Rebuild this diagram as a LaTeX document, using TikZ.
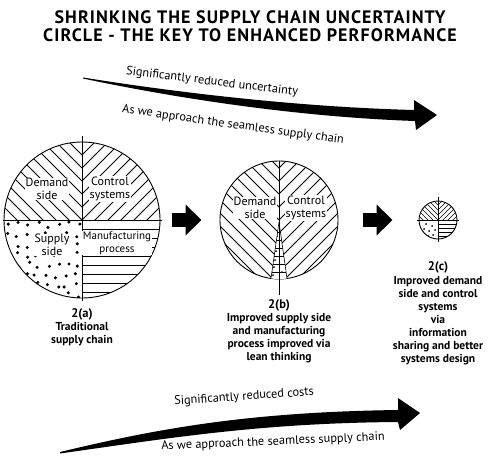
\documentclass[tikz,border=0pt]{standalone}
\usepackage{fontspec}
\setmainfont{PT Sans}
\usetikzlibrary{arrows.meta,positioning,calc}
\tikzset{
  ring/.style={circle,draw,line width=0.9pt,inner sep=0pt,minimum size=#1},
  hatch/.style={line width=0.8pt},
  axis/.style={line width=0.9pt},
  intext/.style={fill=white,inner sep=0.8pt,align=center,
    font=\fontsize{12}{12.5}\selectfont},
  tag/.style={font=\bfseries\fontsize{12.5}{13}\selectfont,inner sep=1pt},
  caption/.style={align=center,inner sep=1pt,
    font=\bfseries\fontsize{11.5}{13}\selectfont},
  headline/.style={align=center,
    font=\bfseries\fontsize{18}{17.5}\selectfont\addfontfeature{LetterSpace=6}},
  along/.style={font=\fontsize{12.3}{12}\selectfont,inner sep=1pt},
  blockarr/.style={line width=14pt,-{Triangle[length=16pt,width=30pt]}},
}
\begin{document}
\begin{tikzpicture}[x=1pt,y=-1pt]
  \fill[white] (0,0) rectangle (500,458);
  \useasboundingbox (0,0) rectangle (500,458);

  \node[headline] (title) at (250,26) {SHRINKING THE SUPPLY CHAIN UNCERTAINTY\\
    CIRCLE - THE KEY TO ENHANCED PERFORMANCE};

  % upper sweep
  \fill (83,77.5) .. controls (180,93) and (300,107) .. (414,110) -- (414,100)
    -- (437,115) -- (416,130) -- (415,121) .. controls (300,117) and (180,99)
    .. (83,78.5) -- cycle;
  \node[along,rotate=-7] (upNote) at (212,82) {Significantly reduced uncertainty};
  \node[along,rotate=-8] (upSub) at (233,125) {As we approach the seamless supply chain};

  % 2(a)
  \node[ring=156pt] (circA) at (82,220) {};
  \begin{scope}[shift={(circA.center)}]
    \begin{scope}
      \clip (0,0) circle (78);
      \clip (-80,-80) rectangle (0,0);
      \foreach \t in {-156,-143,...,156} \draw[hatch] (\t-80,-80) -- (\t+80,80);
    \end{scope}
    \begin{scope}
      \clip (0,0) circle (78);
      \clip (0,-80) rectangle (80,0);
      \foreach \t in {-156,-143,...,156} \draw[hatch] (\t-80,80) -- (\t+80,-80);
    \end{scope}
    \begin{scope}
      \clip (0,0) circle (78);
      \clip (-80,0) rectangle (0,80);
      \pgfmathsetseed{11}
      \foreach \i in {0,...,8} \foreach \j in {0,...,8}
        \fill ({-80+\i*10+5+3*rand},{\j*10+5+3*rand}) circle (1.7);
    \end{scope}
    \begin{scope}
      \clip (0,0) circle (78);
      \foreach \y in {9,18,...,81} \draw[hatch] (0,\y) -- (80,\y);
    \end{scope}
    \draw[axis] (0,-84) -- (0,81);
    \draw[axis] (-79,0) -- (80,0);
    \node[intext] (demA) at (-35,-31) {Demand\\side};
    \node[intext] (ctlA) at (28,-31) {Control\\systems};
    \node[intext] (supA) at (-30,25) {Supply\\side};
    \node[intext,font=\fontsize{11}{12.5}\selectfont] (manA) at (35,23) {Manufacturing\\process};
  \end{scope}
  \node[tag] (tagA) at (82,314) {2(a)};
  \node[caption,below=0pt of tagA] (capA) {Traditional\\supply chain};

  % 2(b)
  \node[ring=118pt] (circB) at (279,220) {};
  \begin{scope}[shift={(circB.center)}]
    \begin{scope}
      \clip (0,0) circle (59);
      \clip (-60,-60) rectangle (0,60);
      \foreach \t in {-130,-117,...,130} \draw[hatch] (\t-60,-60) -- (\t+60,60);
    \end{scope}
    \begin{scope}
      \clip (0,0) circle (59);
      \clip (0,-60) rectangle (60,60);
      \foreach \t in {-130,-117,...,130} \draw[hatch] (\t-60,60) -- (\t+60,-60);
    \end{scope}
    \begin{scope}
      \clip (0,0) circle (59);
      \fill[white] (0,2) -- (-8.5,62) -- (8.5,62) -- cycle;
      \draw[line width=0.6pt] (0,2) -- (-8.5,62) (0,2) -- (8.5,62);
      \clip (0,2) -- (-8.5,62) -- (8.5,62) -- cycle;
      \foreach \y in {12,20,...,60} \draw[line width=0.6pt] (-9,\y) -- (9,\y);
      \foreach \p in {(-2,16),(-3,31),(-4,40),(-5,47),(-6,55),(3,52)}
        \fill \p circle (1);
    \end{scope}
    \draw[axis] (0,-59) -- (0,75);
    \node[intext] (demB) at (-24,-12) {Demand\\side};
    \node[intext] (ctlB) at (27,-12) {Control\\systems};
  \end{scope}
  \node[tag] (tagB) at (279,305) {2(b)};
  \node[caption,below=0pt of tagB] (capB) {Improved supply side\\and manufacturing\\
    process improved via\\lean thinking};

  % 2(c)
  \node[ring=38pt] (circC) at (438,220) {};
  \begin{scope}[shift={(circC.center)}]
    \begin{scope}
      \clip (0,0) circle (19);
      \clip (-20,-20) rectangle (0,0);
      \foreach \t in {-40,-35,...,40} \draw[line width=0.6pt] (\t-20,-20) -- (\t+20,20);
    \end{scope}
    \begin{scope}
      \clip (0,0) circle (19);
      \clip (0,-20) rectangle (20,0);
      \foreach \t in {-40,-35,...,40} \draw[line width=0.6pt] (\t-20,20) -- (\t+20,-20);
    \end{scope}
    \begin{scope}
      \clip (0,0) circle (19);
      \foreach \p in {(-12,4),(-6,6),(-14,9),(-9,11),(-3,10),(-5,15),(-10,16)}
        \fill \p circle (1);
      \foreach \y in {4,8,...,20} \draw[line width=0.6pt] (0,\y) -- (20,\y);
    \end{scope}
    \draw[axis] (0,-23) -- (0,22);
    \draw[axis] (-21,0) -- (21,0);
  \end{scope}
  \node[tag] (tagC) at (438,267) {2(c)};
  \node[caption,below=1pt of tagC] (capC) {Improved demand\\side and control\\
    systems\\via\\information\\sharing and better\\systems design};

  % block arrows
  \draw[blockarr] ([xshift=12pt]circA.east) -- ([xshift=-18pt]circB.west);
  \draw[blockarr] ([xshift=25pt]circB.east) -- ([xshift=-26pt]circC.west);

  % lower sweep
  \fill (60,452) .. controls (160,428) and (250,412) .. (398,410) -- (398,398)
    -- (420,413) -- (400,430) -- (398,422) .. controls (260,423) and (170,438)
    .. (60,453.5) -- cycle;
  \node[along,rotate=4] (lowNote) at (244,397) {Significantly reduced costs};
  \node[along,rotate=2.5] (lowSub) at (273,442) {As we approach the seamless supply chain};
\end{tikzpicture}
\end{document}
